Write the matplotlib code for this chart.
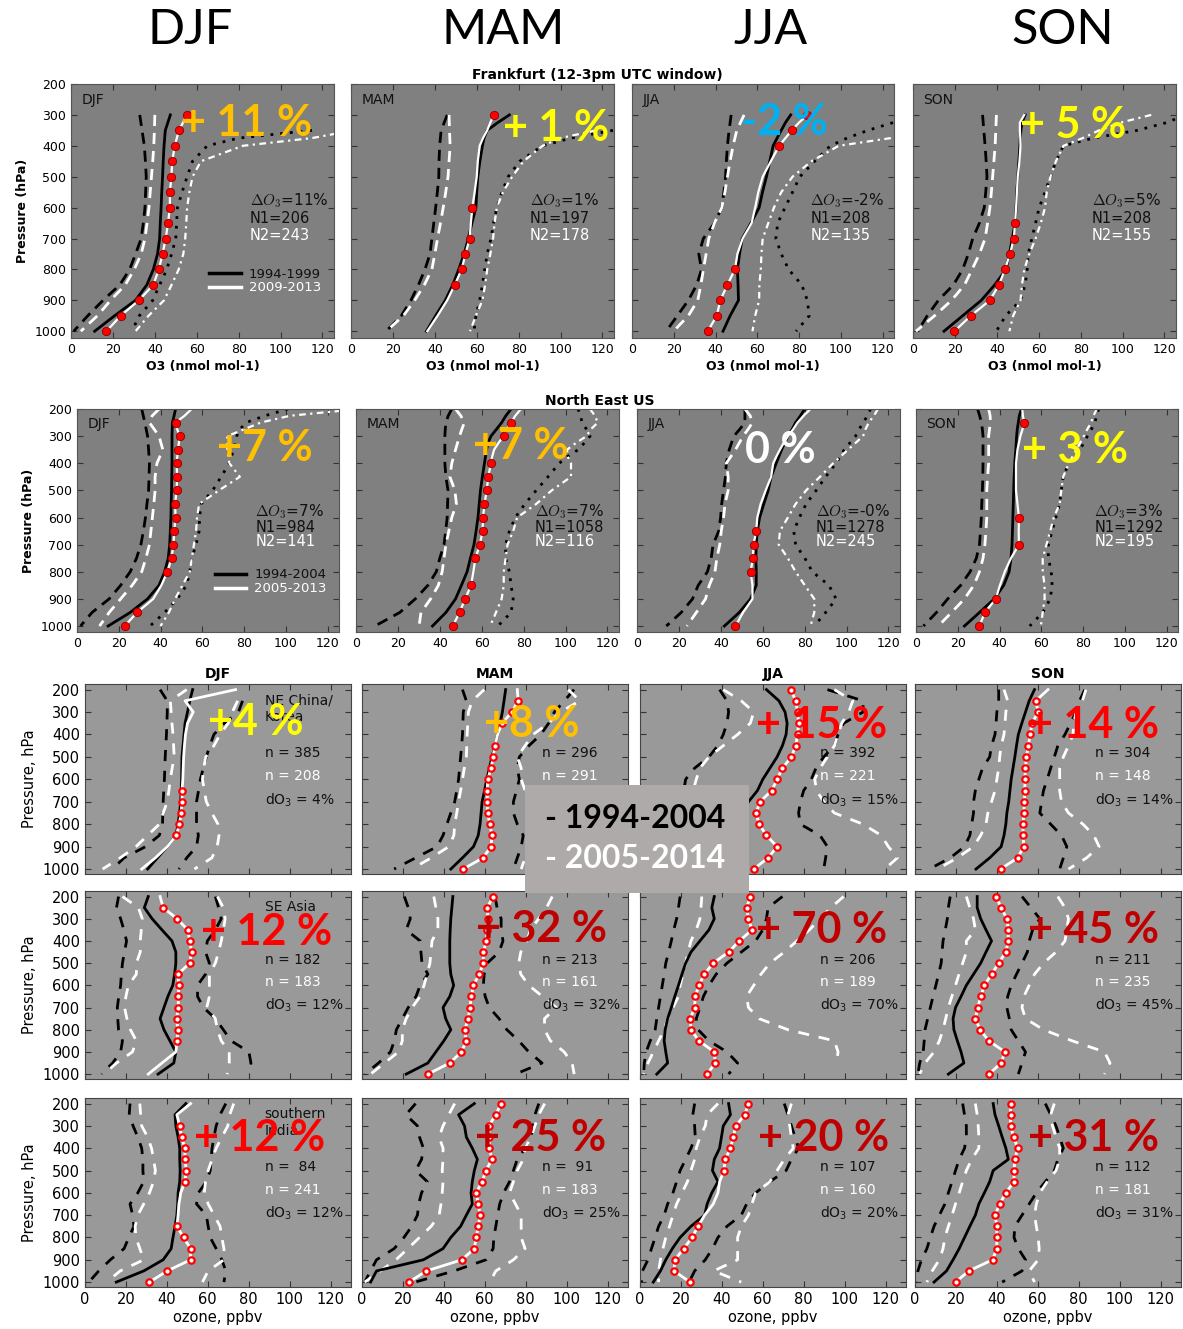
import numpy as np
import matplotlib
matplotlib.use("Agg")
import matplotlib.pyplot as plt
from matplotlib.patches import Rectangle
from matplotlib.lines import Line2D

plt.rcParams['font.family'] = 'DejaVu Sans'

N = None
W, H = 1183, 1329
SEASONS = ['DJF', 'MAM', 'JJA', 'SON']

#%% pressure grids
PRES_A = [200, 225, 250, 275, 300, 325, 350, 375, 400, 450, 500, 550, 600, 650,
          700, 750, 800, 850, 900, 950, 1000]
PRES_B = [200, 250, 300, 350, 400, 450, 500, 550, 600, 650, 700, 750, 800, 850,
          900, 950, 1000]

#%% Frankfurt (row 1), on PRES_A, order DJF MAM JJA SON
fra_old = [
    [N, N, N, N, 47.4, N, 45, N, 44.4, 44, 43.7, 43.3, 43, 42.6, 42.3, 41.3, 39.3, 36.2, 30.8, 20.8, 11.3],
    [N, N, N, N, 75.6, 70, 65, 63.5, 62.7, 61.5, 60.5, 60, 59.6, 57.7, 56, 54, 51.4, 48.6, 45, 40.4, 36],
    [N, N, N, N, 76, 73.5, 71.5, 69.5, 67.6, 66, 64.4, 62.5, 60.9, 57, 52.8, 51.5, 50.5, 50.8, 51, 47, 43.6],
    [N, N, N, N, 53.5, 52, 51.5, 51.2, 51, 50.5, 50, 49.5, 49.2, 48.7, 47.4, 46, 44.4, 39, 32.6, 23.7, 14.8]]
fra_new = [
    [N, N, N, N, 55.4, N, 51.5, N, 49.5, 48.3, 47.9, 47.2, 47.2, 46.3, 45.2, 43.7, 41.9, 39.3, 32.4, 23.7, 16.9],
    [N, N, N, N, 68, 66.5, 65, 63, 61.4, 60.5, 60, 59, 57.9, 57.2, 56.6, 54.6, 52.8, 49.5, 45.9, 41.3, 36.4],
    [N, N, N, N, 84, 80, 76.5, 73.5, 70.5, 66.5, 62.6, 60.5, 59, 57.3, 53, 50.5, 49.3, 45.7, 42.3, 40.6, 36.3],
    [N, N, N, N, 53.1, 51, 51, 51.2, 51.3, 50.8, 50, 49.6, 49.2, 48.7, 48.1, 46.3, 43.9, 41, 36.7, 27.6, 19.8]]
fra_old_lo = [
    [N, N, N, N, 32.8, N, 33.9, N, 35, 35.5, 35.9, 35.6, 35.3, 34.5, 33.5, 30.8, 28, 23.3, 15.3, 8, 1.3],
    [N, N, N, N, 45.9, N, 43, N, 42.3, 42, 41.9, 41.2, 40.4, 39.5, 38.6, 37.7, 35.3, 32.2, 28.6, 24, 16.8],
    [N, N, N, N, 47.5, N, 46.5, N, 45.7, 45.2, 44.8, 44, 43, 39.5, 34.2, 32, 33.3, 31, 27, 21.7, 16.4],
    [N, N, N, N, 33.2, N, 33.8, N, 34.4, 34.9, 35.3, 34.7, 34, 31.7, 28.5, 26.4, 23.7, 19.3, 12.1, 6.8, 2.3]]
fra_new_lo = [
    [N, N, N, N, 40, N, 39.8, N, 39.5, 39, 38.4, 37.8, 37.2, 36.3, 35.3, 33.5, 30.2, 25.9, 18.9, 12.6, 4.7],
    [N, N, N, N, 46.8, N, 47, N, 47.3, 46.8, 46.3, 45.2, 44, 42.7, 41.3, 40, 38.6, 35, 30.4, 25, 16.8],
    [N, N, N, N, 53.7, N, 50.2, N, 48.4, 47, 45.7, 44.5, 43, 39.5, 36.8, 35.5, 34.2, 33, 31.5, 27, 19.9],
    [N, N, N, N, 39.8, N, 39.5, N, 39.2, 38.6, 38, 37.4, 36.7, 35.6, 34.4, 31.7, 28.2, 24.6, 18.4, 10.3, 1.4]]
fra_old_hi = [
    [N, N, N, N, N, N, 115, 80, 65, 58, 55.4, 53, 50.8, 50.4, 50, 48, 45.7, 42.3, 39, 32.6, 29],
    [N, N, N, N, N, N, 125, 105, 91.4, 80.5, 75, 72, 69.6, 68, 66.8, 65, 63.8, 62.7, 61.4, 59.6, 58.7],
    [N, N, N, N, N, 125, 113, 103, 95, 87.5, 80.4, 76.9, 73.3, 69.8, 68.9, 71.5, 75, 81.3, 84, 84.9, 78.6],
    [N, N, N, N, 130, 121, 107, 86, 71.8, 68.2, 65.6, 63, 60.2, 58.5, 56.7, 55, 54.5, 53.5, 51.3, 44.2, 39.8]]
fra_new_hi = [
    [N, N, N, N, N, N, 135, 115, 82, 62, 58, 56.5, 55.4, 55, 54.5, 53.6, 51.4, 48, 44.4, 37, 30.8],
    [N, N, N, N, N, N, 117, 100, 91.4, 82.3, 76.9, 72.5, 69.6, 68.5, 67.8, 66.5, 65, 64, 62.7, 59.6, 56.8],
    [N, N, N, N, N, N, N, 124, 99, 86, 76.9, 71.5, 68, 65.3, 62.6, 62, 61.7, 61, 60.9, 59, 57.7],
    [N, N, N, N, 113.7, 99, 88.8, 81, 71.8, 68.2, 65.6, 63.8, 63, 61, 58.5, 55.5, 53.1, 52, 51.3, 47.8, 46]]
fra_dots = [
    [300, 350, 400, 450, 500, 550, 600, 650, 700, 750, 800, 850, 900, 950, 1000],
    [300, 600, 700, 750, 800, 850],
    [300, 350, 400, 800, 850, 900, 950, 1000],
    [650, 700, 750, 800, 850, 900, 950, 1000]]
fra_dO3 = ['11', '1', '-2', '5']
fra_n1 = [206, 197, 208, 208]
fra_n2 = [243, 178, 135, 155]

#%% North East US (row 2), on PRES_A
neus_old = [
    [47.2, 46.5, 45.7, 45.6, 45.5, N, 45.5, N, 45.5, 45.4, 45.3, 45.1, 45, 44.7, 44.4, 43.7, 42, 39.3, 33.8, 25.5, 14.9],
    [74, 71.5, 69.5, 67, 64.4, 63, 62.3, 61.8, 61.3, 60.3, 59.4, 58.8, 58.2, 57.3, 56.3, 54.6, 53, 50.3, 47.5, 42.9, 36.5],
    [80, 78, 75.7, 74, 72, 70.5, 69, 67.7, 66.4, 64, 62.6, 60.5, 58.5, 57.4, 56.9, 56.7, 56.9, 56.9, 54.2, 48.8, 41.7],
    [50.5, 49.5, 49, 48.5, 48.2, N, 47.8, N, 47.3, 47, 46.8, 46.6, 46.4, 46.2, 46, 45.5, 44.6, 42, 37.5, 30.4, 23.2]]
neus_new = [
    [54.9, 51.5, 47.2, 48, 49.2, N, 48.4, N, 47.7, 48, 47.7, 47, 47.2, 46.6, 46.2, 45.3, 43.3, 40.4, 36.5, 28.8, 22.8],
    [78.7, 76, 74, 72, 70.4, 68, 65.9, 65, 64.4, 63.1, 62.4, 61.3, 60.6, 60.4, 59.1, 57, 56, 54.9, 52.1, 49.4, 46.2],
    [82.8, 79.5, 76.6, 74.5, 72, 70, 68.2, 66.5, 65, 64, 61.4, 59, 57.4, 56.9, 55.6, 55.3, 54.2, 55.1, 55.1, 50.6, 47],
    [50.9, 51.2, 51.8, 51, 50, N, 48.6, N, 47.9, 47.9, 47.9, 48.6, 49.3, 49.2, 49.3, 45.5, 42.5, 40.2, 38.2, 33, 30.4]]
neus_old_lo = [
    [31, N, 32.5, N, 33.8, N, 34.3, N, 34.7, 34.5, 34.3, 33.5, 32.8, 31.8, 30.6, 28.5, 25.5, 20.9, 15.4, 7.2, 1.7],
    [45.7, 44, 42.9, 42.6, 42.4, N, 42.4, N, 42.4, 42.9, 43.9, 43.7, 43.5, 42.8, 42, 40, 38.3, 34.3, 28.3, 20.9, 9],
    [51.5, 51.5, 51.5, 49, 46.2, N, 44, N, 42.6, 42.2, 41.3, 40.4, 39.9, 39, 36.3, 35.4, 33.6, 29.2, 26.5, 21.1, 14],
    [29.5, 30.5, 31.3, 31.8, 32.1, N, 32.1, N, 32.1, 32, 31.8, 31.5, 31.3, 30.9, 30.4, 28.9, 25.9, 21.4, 15.2, 9.8, 3.6]]
neus_new_lo = [
    [39.3, 36, 34.7, 37, 39.3, N, 41.1, N, 38.3, 37.4, 37.4, 36.8, 36.1, 35.4, 34.7, 33, 31, 26.4, 20.9, 15.4, 10.8],
    [47.5, 50, 51.7, 50.5, 49.4, N, 47.5, N, 45.7, 44.8, 47.2, 47.9, 45.7, 44.3, 42.9, 42, 41.1, 39.3, 35.6, 31, 30.1],
    [51.5, 54, 55.1, 53, 50.6, N, 47, N, 42.6, 43.5, 43.5, 42, 41.3, 40.2, 39.5, 38.1, 37.2, 34.5, 32.7, 28.3, 23.8],
    [34.8, 35.5, 35.7, 35.2, 34.8, N, 34.8, N, 34.8, 34.3, 33.9, 33.9, 33.9, 33.5, 33, 32.1, 30.4, 27.7, 23.2, 17, 10.7]]
neus_old_hi = [
    [101, 90, 81, 78, 76.5, N, 75, N, 73, 69, 65, 59.5, 58.7, 58.5, 57, 55, 54, 52.5, 48, 42, 35],
    [106, 107, 108, 110, 111.7, 109, 106, 101, 97, 91.6, 86, 80.6, 76, 73.2, 71.4, 71.4, 73.2, 74, 75, 74, 67.7],
    [111.4, 110, 107.9, 106, 104.3, N, 98.9, N, 95, 90, 85.5, 80.7, 77.5, 74.8, 75.7, 80.1, 83.7, 91.6, 95, 90, 84.6],
    [87.5, 86.5, 85.7, 84, 82.1, N, 78.6, N, 73.2, 70.5, 69.6, 68.8, 67, 65.2, 63.4, 63.4, 64.8, 65.2, 64.3, 60.7, 54.5]]
neus_new_hi = [
    [135, 102, 88, 80, 72, N, 72, N, 73, 78, 68, 58.5, 57.5, 57, 56, 55, 54, 50.5, 47, 44, 40],
    [111.7, 114, 115.4, 112, 110, 105, 100.7, 101, 102.6, 102.6, 93.4, 86, 76.9, 75, 72.3, 71.4, 70.5, 70.5, 69.5, 66.8, 64],
    [115, 113, 110.6, 109, 107.9, N, 100.7, N, 93.6, 87.3, 80.7, 75.7, 72, 68.2, 67.6, 72, 75.7, 80.1, 84.6, 84.6, 82.8],
    [86.6, 85, 83.9, 82, 80.4, N, 76.8, N, 73.2, 70.5, 69.6, 68.8, 66, 64.3, 62.5, 60.7, 60.7, 61.6, 61.6, 60.7, 59.8]]
neus_dots = [
    [250, 300, 350, 400, 450, 500, 550, 600, 650, 700, 750, 800, 950, 1000],
    [250, 300, 400, 450, 500, 550, 600, 650, 700, 750, 850, 900, 950, 1000],
    [650, 700, 750, 800, 1000],
    [250, 600, 700, 900, 950, 1000]]
neus_dO3 = ['7', '7', '-0', '3']
neus_n1 = [984, 1058, 1278, 1292]
neus_n2 = [141, 116, 245, 195]

#%% NE China / Korea (row 3), on PRES_B
nec_old = [
    [52.6, 51.2, 50.1, 48.9, 48.4, 47.9, 47.4, 47.3, 47.2, 47, 46.8, 46.2, 45.5, 44.4, 40.2, 35.4, 30.6],
    [70.2, 69.4, 68.6, 67.5, 66.3, 65, 63.5, 62.3, 61, 59.9, 58.7, 58.2, 57.7, 56.8, 54.5, 49.1, 43.4],
    [61.8, 67.9, 70.9, 71.9, 71.4, 69.6, 67, 63.5, 60, 57.4, 53, 50, 48, 47, 46, 44, 42],
    [58.4, 55.8, 54, 52.2, 50.5, 49.6, 48.8, 47.9, 47, 46.4, 45.8, 44.9, 44.4, 43.5, 42.1, 36.5, 29.8]]
nec_new = [
    [73.6, 48.9, 52.9, 50.1, 49.1, 48.6, 48.2, 48, 47.8, 47.4, 47.4, 47, 46.1, 44.6, 40.2, 34.4, 27.7],
    [75.9, 76.3, 73.4, 68.3, 66.3, 65, 64, 63.1, 61.4, 61.2, 61.2, 61.4, 62.5, 63.5, 63.1, 59.1, 49.5],
    [73.7, 76.1, 77, 77.5, 77, 76.1, 74, 69.6, 67, 64.4, 58.6, 56.8, 58.2, 61.8, 67, 62.6, 55.6],
    [65, 59, 60.2, 57.2, 56.3, 55.4, 54.4, 54, 53.7, 53.7, 53.5, 53.2, 52.8, 52.8, 53.2, 50.2, 41.8]]
nec_old_lo = [
    [36.7, 40.2, 40.2, 40, 39.8, 39.5, 39.2, 39, 38.8, 38.5, 38.2, 38, 37.9, 36.3, 29.6, 19.1, 13.4],
    [49.1, 51, 49.5, 49.3, 49.1, 48.7, 48.2, 47.7, 47.2, 46.3, 45.3, 43.4, 41.5, 39.6, 36.7, 26.2, 15.7],
    [38.9, 42.5, 43.3, 42.5, 40.7, 38, 33.7, 26.7, 22.3, 21.4, 20, 18, 16, 14, 12, 10, 8],
    [40.9, 40.9, 40, 39.6, 39.1, 37.4, 36.5, 33, 31.2, 29.5, 28.6, 28.6, 27.7, 26.8, 24.2, 17.2, 7]]
nec_new_lo = [
    [49.7, 41.7, 42.1, 42.5, 43, 43.3, 43.6, 42.6, 41.7, 41, 40.2, 38.2, 36.3, 30.6, 24.9, 17.2, 8.6],
    [59.7, 53.9, 52, 51.7, 51.4, 51.2, 51, 50, 49.1, 48.2, 47.2, 46.3, 45.3, 44.9, 42.4, 33.8, 24.3],
    [40.7, 49.5, 55.6, 53.9, 47.7, 40.7, 33.7, 29.3, 27.5, 26, 24, 22, 20, 18, 16, 13, 10],
    [43.5, 45.3, 44.4, 44, 43.5, 42.1, 41.4, 40.9, 40, 39.1, 37.4, 35.6, 34.7, 32.1, 28.6, 20.7, 11]]
nec_old_hi = [
    [N, 77, 75, 68, 63, 61, 59.3, 57.8, 56.4, 55.5, 54.5, 54.5, 54.5, 55.4, 54.5, 49.7, 45.9],
    [103.6, 98.9, 94, 91.2, 87.4, 81.6, 76.9, 75.9, 76.9, 75.5, 74, 74, 75.9, 78.8, 77.8, 75.9, 74],
    [91.6, 109, 109, 99.5, 96.8, 95, 89.8, 86, 83.7, 80, 78.4, 77.5, 78.4, 88, 91.6, 90.7, 89.8],
    [83, 80.4, 78.6, 76, 73.3, 69.8, 68.1, 66.3, 64.6, 62.8, 61.9, 61, 66.3, 71.6, 74.2, 72.5, 70.7]]
nec_new_hi = [
    [N, 74.6, 72, 70, 66, 63, 59, 58, 57.4, 58.3, 59.3, 62, 65, 65.5, 64.6, 62, 53.5],
    [100.8, 106.5, 96.9, 91.2, 83.6, 79.7, 75.9, 77.8, 77.8, 79.7, 80.5, 81, 81.5, 82, 81.6, 79.7, 77.8],
    [95, 104, 102, 98.6, 96.8, 95, 91.6, 88, 85.4, 86.3, 89.8, 95, 109, 117.9, 121.4, 125.8, 119.6],
    [83.5, 81.8, 78.6, 77.7, 77.2, 75, 72.5, 70.7, 70.7, 70.7, 71.6, 75, 82.1, 87.4, 90, 83.9, 75]]
nec_dots = [
    [650, 700, 750, 800, 850],
    [250, 300, 350, 450, 500, 550, 600, 650, 700, 750, 800, 850, 900, 950, 1000],
    PRES_B,
    PRES_B[1:]]
nec_n1 = [385, 296, 392, 304]
nec_n2 = [208, 291, 221, 148]
nec_d = [4, 8, 15, 14]

#%% SE Asia (row 4), on PRES_B
sea_old = [
    [30.9, 29, 32.8, 37.6, 42.5, 44.4, 44.4, 43.8, 42.9, 40.5, 38.6, 36.7, 38.6, 41.5, 44.4, 43.4, 35.7],
    [44.4, 43.9, 43.4, 43.1, 42.9, 42.9, 42.9, 43.4, 44.8, 42.9, 39.6, 40.9, 43.4, 40, 36.1, 32.2, 21.6],
    [36.3, 35.1, 36.3, 33.7, 29.3, 24.9, 22.3, 20.5, 18.8, 17, 15.3, 13.5, 12.3, 11.8, 12.6, 13.5, 8.2],
    [30.4, 30.4, 32.1, 34.7, 37.4, 34.7, 32.1, 28.6, 25.1, 22.5, 19.8, 18.6, 19, 20.7, 22.5, 23.9, 16.3]]
sea_new = [
    [36.7, 38.2, 45, 50.2, 51.2, 52.1, 51.2, 45.4, 45.9, 45.6, 45.6, 44.8, 45.4, 45, 44.4, 37.6, 30.9],
    [64.1, 61.2, 61.6, 61.2, 60.8, 59.3, 59.3, 57.3, 54.4, 53.5, 52.7, 51.9, 50.2, 51, 48.6, 42.9, 32.2],
    [53.9, 52.1, 53, 54.7, 48.6, 43.3, 35.8, 31.4, 28.8, 27, 26.7, 24.6, 24.9, 28.8, 36.3, 36.8, 32.8],
    [39.6, 42.1, 44.9, 45.6, 45.6, 44.4, 40.9, 37.4, 33.9, 32.1, 30.7, 29.5, 31.8, 36.1, 43.9, 42.1, 36.1]]
sea_old_lo = [
    [16.4, 15.4, 17.4, 19, 20.3, 19.3, 18.3, 17.8, 17.4, 16.5, 15.8, 16, 16.4, 18.3, 17.4, 13.5, 8.1],
    [20.7, 22.6, 23.6, 21.6, 28.4, 28.8, 29.3, 32.2, 28.4, 26.4, 22.6, 19.7, 16.8, 15.8, 13.9, 8.1, 1.4],
    [19.6, 18.8, 17.9, 16.5, 15.3, 14, 12.6, 11.8, 10.9, 10, 9.1, 8.2, 7.4, 5, 3, 2.1, 1.8],
    [17.2, 16.3, 15.8, 14.8, 13.7, 13.2, 12.8, 11.5, 10.2, 8.8, 7.5, 6.2, 4.9, 4.5, 4, 2.3, 1.4]]
sea_new_lo = [
    [18.3, 26.1, 28, 27.5, 27, 27, 25.1, 25.1, 21.2, 20, 19.3, 20.5, 22.2, 25.1, 23.2, 15.4, 9.3],
    [35.1, 36.1, 37.1, 37.1, 34.2, 33.7, 33.2, 31.8, 30.3, 28.4, 24.5, 21.6, 19.7, 19.7, 17.8, 11, 4.2],
    [30.2, 29.8, 29.3, 27.5, 24.9, 23.5, 22.3, 21, 19.6, 18.8, 16.1, 13.5, 11.8, 9.1, 6.5, 3.9, 1.8],
    [25.1, 26.8, 28.6, 29.5, 25.1, 25.1, 23.3, 21.5, 19.8, 18, 16.3, 15, 13.7, 11.9, 9.3, 4.9, 2.3]]
sea_old_hi = [
    [63.7, 65.3, 66.6, 63.7, 59.8, 58.9, 60.8, 58.9, 55, 55, 57.9, 63.7, 67.6, 71.4, 80.1, 81.1, 80.1],
    [65, 66, 68, 68, 68.9, 67, 61.2, 59.7, 59.3, 60.2, 62.2, 67, 70.8, 76.6, 81.5, 88, 75],
    [69.6, 62.6, 61.8, 60, 56.5, 49.5, 42.5, 37.2, 33.7, 31, 29.3, 27.5, 28.4, 33.7, 42.5, 47.7, 43.3],
    [52.3, 56.7, 61, 57.5, 55.8, 54.9, 52.3, 49.6, 47, 45.3, 44.9, 46.1, 47, 50.5, 54, 52.3, 50.5]]
sea_new_hi = [
    [64.7, 67.6, 68.5, 67.6, 66.6, 65.3, 63.7, 60.8, 60.8, 60.8, 59.5, 63.7, 64.7, 66.6, 70.5, 70.5, 69.5],
    [93, 90.2, 86.3, 82.4, 80.5, 77.6, 76.6, 77.6, 81.5, 88.2, 95, 89.2, 89.2, 92.1, 98.8, 102.7, 103.7],
    [99.5, 93.3, 88, 82.8, 76.7, 70.5, 63.5, 59.1, 55.6, 52.1, 53, 58.2, 72.3, 95, 96.8, 96, N],
    [69.8, 73.3, 75, 74.2, 73.3, 68.9, 62.8, 58.4, 55.8, 53.2, 52.3, 54, 62.8, 76.8, 92.6, 95.3, 92.6]]
sea_dots = [
    [250, 300, 350, 400, 450, 500, 550, 600, 650, 700, 750, 800, 850],
    PRES_B, PRES_B, PRES_B]
sea_n1 = [182, 213, 206, 211]
sea_n2 = [183, 161, 189, 235]
sea_d = [12, 32, 70, 45]

#%% southern India (row 5), on PRES_B
sin_old = [
    [49.3, 44, 44.4, 45.5, 46.3, 46.3, 46.5, 46.3, 45.5, 45.3, 44.9, 44, 43, 42.1, 38.2, 28.7, 15.3],
    [54.9, 47.2, 50.1, 51, 53.9, 56.4, 54.9, 53.9, 53.3, 53.9, 51, 48.2, 43.4, 39.6, 30, 7.1, 4.2],
    [43.3, 44.2, 40.7, 39.8, 38.9, 36.3, 35.4, 38.1, 35.1, 32.8, 31.6, 24.9, 19.6, 15.8, 12.6, 10, 6.5],
    [38.2, 39.1, 40.9, 42.6, 44.4, 45.6, 38.2, 36.5, 33.9, 31.2, 29.5, 26.8, 24.2, 21.6, 18.6, 15.4, 9.3]]
sin_new = [
    [51.6, 44.9, 46.3, 47.2, 48.8, 48.9, 49.5, 48.8, 46.8, 45.9, 45.5, 44.9, 48.2, 51.6, 51.6, 40.2, 31.5],
    [67.9, 65.4, 62, 62.1, 62.3, 63.5, 60.6, 58.7, 55.8, 56.8, 57.7, 56.8, 55.8, 54.9, 48.8, 31.5, 22.9],
    [53, 51.2, 46.8, 45.6, 44.2, 41.6, 41.1, 38.9, 38.1, 35.8, 31.6, 28.4, 25.4, 21.4, 17, 16.7, 24.4],
    [46.7, 46.7, 46.7, 48.2, 50.2, 48.8, 48.4, 48.4, 44.4, 41.4, 39.1, 40, 40, 40, 37.9, 26.3, 19.8]]
sin_old_lo = [
    [22, 21.6, 23.5, 25.8, 27.7, 28.3, 28.3, 28.7, 25.8, 22, 23.3, 23.9, 21.4, 19.1, 12.4, 6.7, 1.9],
    [26.2, 21.4, 27.1, 28.1, 30, 29.1, 26.2, 31.9, 29.1, 27.7, 27.1, 24.3, 20.5, 15.7, 7.1, 4.2, 1.3],
    [26.7, 25.8, 26.7, 27, 24.9, 22.3, 19.6, 17.9, 16.1, 13.5, 11.8, 9.1, 7.4, 5.6, 3.9, 1.2, 0.7],
    [23.3, 24.2, 25.1, 25.1, 24.2, 21.6, 19.8, 18.1, 16.3, 14.6, 11.9, 9.3, 7.5, 5.8, 3.2, 1.4, 0.5]]
sin_new_lo = [
    [26.8, 27.2, 27.7, 30.6, 32.5, 33.5, 34.4, 33.5, 31.5, 28.7, 25.8, 24.5, 24.9, 26.8, 28.7, 17.2, 10.5],
    [45.3, 42.4, 39.6, 37.7, 39.6, 39.6, 39.2, 39.6, 39.2, 38.6, 37.7, 33.8, 28.1, 22.4, 16.6, 9, 1.3],
    [38.1, 32.8, 31.9, 29.3, 27.5, 26.7, 24.9, 23.2, 20.5, 17.9, 16.1, 14.4, 12.6, 11.2, 10, 9.1, 9.1],
    [29.5, 30.4, 30.9, 31.2, 31.2, 27.7, 25.1, 23.3, 21.6, 19.8, 18.1, 16.3, 14.6, 13.7, 11.9, 8.4, 5.8]]
sin_old_hi = [
    [68.8, 66, 64.1, 63, 62.1, 61.6, 61.2, 59.3, 55.4, 54.5, 59.3, 60.2, 61.2, 64.1, 66.9, 68.8, 67.9],
    [86.4, 84.5, 83.6, 82.6, 79.7, 75.9, 74, 72.1, 69.2, 67.3, 66.3, 65.4, 64.4, 64.1, 60.6, 45, 26],
    [70.5, 72.3, 74, 75.8, 77.5, 74, 71.4, 63.5, 56.5, 52.1, 49.5, 42.5, 38.1, 35.4, 31.9, 26.7, 24],
    [63.7, 66.3, 68.9, 70.7, 72.5, 69.8, 68.1, 63.7, 59.3, 55.8, 52.3, 48.8, 48.4, 50.5, 54, 52.3, 42.6]]
sin_new_hi = [
    [72.7, 70.7, 69.8, 66.9, 64.1, 62.1, 60.2, 58.9, 58.3, 60.2, 63.1, 66, 66.9, 67.9, 67.9, 60.2, 57.4],
    [89.3, 86.4, 84.5, 82.6, 79.7, 78.8, 75.9, 74, 72.1, 75, 77.8, 77.8, 77.8, 79.7, 74, 65.4, 62.5],
    [74, 72.3, 73.2, 74, 74.9, 70.5, 67, 63.5, 56.5, 54.7, 53, 49.5, 47.7, 47.7, 47.7, 36, 49.5],
    [68.1, 66.3, 67.2, 68.9, 70.7, 70.7, 68.9, 64.6, 61, 59.3, 58.4, 59.3, 60.2, 60.7, 60.2, 55.8, 58.4]]
sin_dots = [
    [300, 350, 400, 450, 500, 550, 750, 800, 850, 900, 950, 1000],
    PRES_B,
    [200, 250, 300, 350, 400, 450, 500, 750, 800, 850, 900, 950, 1000],
    PRES_B]
sin_n1 = [' 84', ' 91', 107, 112]
sin_n2 = [241, 183, 160, 181]
sin_d = [12, 25, 20, 31]

#%% big change labels and colours
ORANGE, YELLOW, CYAN, RED, DRED = '#ffc000', '#ffff00', '#00b0f0', '#ff0000', '#c00000'
big_txt = [['+ 11 %', '+ 1 %', '-2 %', '+ 5 %'],
           ['+7 %', '+7 %', '0 %', '+ 3 %'],
           ['+4 %', '+8 %', '+ 15 %', '+ 14 %'],
           ['+ 12 %', '+ 32 %', '+ 70 %', '+ 45 %'],
           ['+ 12 %', '+ 25 %', '+ 20 %', '+ 31 %']]
big_col = [[ORANGE, YELLOW, CYAN, YELLOW],
           [ORANGE, ORANGE, 'white', YELLOW],
           [YELLOW, ORANGE, RED, RED],
           [RED, DRED, DRED, DRED],
           [RED, DRED, DRED, DRED]]
big_pos = [[(247, 123), (556, 128), (784, 122), (1073, 125)],
           [(265, 448), (521, 446), (780, 450), (1075, 450)],
           [(256, 722), (532, 724), (822, 725), (1093, 725)],
           [(267, 932), (541, 929), (822, 930), (1094, 930)],
           [(260, 1138), (541, 1138), (824, 1138), (1094, 1138)]]

#%% layout in pixels
ROW_Y = [(84, 338), (409, 632), (684, 874), (891, 1079), (1098, 1287)]
COL_X = [[(71, 334), (351, 614), (632, 894), (913, 1176)],
         [(77, 339), (356, 619), (637, 900), (916, 1178)]] + \
        [[(85, 351), (362, 628), (640, 906), (915, 1181)]] * 3

fig = plt.figure(figsize=(W / 100, H / 100), dpi=100)


def fxy(px, py):
    return px / W, 1 - py / H


def draw(ax, pres, old, new, olo, nlo, ohi, nhi, dots, top):
    pres = np.array(pres, dtype=float)
    if top:
        hi_b = dict(color='black', lw=2, ls=(0, (1, 2.5)))
        hi_w = dict(color='white', lw=1.6, ls=(0, (3, 2, 1, 2)))
        lo_b = dict(color='black', lw=2, ls=(0, (4, 2.5)))
        lo_w = dict(color='white', lw=2, ls=(0, (4, 2.5)))
    else:
        hi_b = dict(color='black', lw=2, ls=(0, (4, 3.5)))
        hi_w = dict(color='white', lw=2, ls=(0, (4, 3.5)))
        lo_b, lo_w = hi_b, hi_w
    lines = [(ohi, hi_b), (nhi, hi_w), (olo, lo_b), (nlo, lo_w),
             (old, dict(color='black', lw=2)), (new, dict(color='white', lw=1.6 if top else 2))]
    for vals, kw in lines:
        v = np.array(vals, dtype=float)
        m = np.isfinite(v)
        ax.plot(v[m], pres[m], **kw)
    nv = np.array(new, dtype=float)
    m = np.isin(pres, dots)
    if top:
        ax.plot(nv[m], pres[m], 'o', ms=6, mfc='red', mec='#8b0000', mew=0.6, zorder=5)
    else:
        ax.plot(nv[m], pres[m], 'o', ms=4.6, mfc='white', mec='red', mew=1.6, zorder=5)


regions = [
    (PRES_A, fra_old, fra_new, fra_old_lo, fra_new_lo, fra_old_hi, fra_new_hi, fra_dots),
    (PRES_A, neus_old, neus_new, neus_old_lo, neus_new_lo, neus_old_hi, neus_new_hi, neus_dots),
    (PRES_B, nec_old, nec_new, nec_old_lo, nec_new_lo, nec_old_hi, nec_new_hi, nec_dots),
    (PRES_B, sea_old, sea_new, sea_old_lo, sea_new_lo, sea_old_hi, sea_new_hi, sea_dots),
    (PRES_B, sin_old, sin_new, sin_old_lo, sin_new_lo, sin_old_hi, sin_new_hi, sin_dots)]
lower_txt = [(nec_n1, nec_n2, nec_d, 'NE China/\nKorea'),
             (sea_n1, sea_n2, sea_d, 'SE Asia'),
             (sin_n1, sin_n2, sin_d, 'southern\nIndia')]
top_txt = [(fra_dO3, fra_n1, fra_n2, ['1994-1999', '2009-2013']),
           (neus_dO3, neus_n1, neus_n2, ['1994-2004', '2005-2013'])]

for r in range(5):
    y0, y1 = ROW_Y[r]
    top = r < 2
    pres, old, new, olo, nlo, ohi, nhi, dots = regions[r]
    for c in range(4):
        x0, x1 = COL_X[r][c]
        ax = fig.add_axes([x0 / W, 1 - y1 / H, (x1 - x0) / W, (y1 - y0) / H])
        ax.set_facecolor('#808080' if top else '#999999')
        draw(ax, pres, old[c], new[c], olo[c], nlo[c], ohi[c], nhi[c], dots[c], top)
        if top:
            ax.set_xlim(0, 125.5)
            ax.set_ylim(1022, 200)
        else:
            ax.set_xlim(0, 130)
            ax.set_ylim(1022, 175)
        ax.set_xticks(range(0, 121, 20))
        ax.set_yticks(range(200, 1001, 100))
        ax.tick_params(direction='in', top=True, right=True, length=4, width=0.8,
                       colors='#333333', labelcolor='black', labelsize=9 if top else 10.5)
        for s in ax.spines.values():
            s.set_color('#444444' if not top else '#555555')
            s.set_linewidth(0.8)
        if c > 0:
            ax.set_yticklabels([])
        elif top:
            ax.set_ylabel('Pressure (hPa)', fontsize=9, fontweight='bold')
        else:
            ax.set_ylabel('Pressure, hPa', fontsize=10.5)
        if r in (2, 3):
            ax.set_xticklabels([])
        if r == 0:
            ax.set_xlabel('O3 (nmol mol-1)', fontsize=9, fontweight='bold', labelpad=3)
        if r == 4:
            ax.set_xlabel('ozone, ppbv', fontsize=10.5, labelpad=2)
        if r == 2:
            ax.set_title(SEASONS[c], fontsize=10, fontweight='bold', pad=4)

        if top:
            dO3, n1, n2, leg = top_txt[r]
            ax.text(0.04, 0.965, SEASONS[c], transform=ax.transAxes, fontsize=10,
                    va='top', color='#111111')
            ax.text(0.68, 0.54, r'$\Delta O_3$=' + dO3[c] + '%', transform=ax.transAxes,
                    fontsize=11, math_fontfamily='cm', color='#111111', va='center')
            ax.text(0.68, 0.47, 'N1=%d' % n1[c], transform=ax.transAxes, fontsize=10.5,
                    color='#111111', va='center')
            ax.text(0.68, 0.405, 'N2=%d' % n2[c], transform=ax.transAxes, fontsize=10.5,
                    color='white', va='center')
            if c == 0:
                hh = [Line2D([], [], color='black', lw=2.5), Line2D([], [], color='white', lw=2.5)]
                ax.legend(hh, leg, loc='center left', bbox_to_anchor=(0.48, 0.225),
                          frameon=False, fontsize=9.5, handlelength=2.4, labelspacing=0.05,
                          handletextpad=0.6, labelcolor=['#111111', 'white'])
        else:
            n1, n2, d, name = lower_txt[r - 2]
            if c == 0:
                ax.text(0.675, 0.95, name, transform=ax.transAxes, fontsize=10,
                        va='top', color='#111111', linespacing=1.25)
            ax.text(0.675, 0.635, 'n = %s' % n1[c], transform=ax.transAxes, fontsize=10,
                    va='center', color='#111111')
            ax.text(0.675, 0.515, 'n = %s' % n2[c], transform=ax.transAxes, fontsize=10,
                    va='center', color='white')
            ax.text(0.675, 0.39, 'dO$_3$ = %d%%' % d[c], transform=ax.transAxes, fontsize=10,
                    va='center', color='#111111')

        px, py = big_pos[r][c]
        fig.text(*fxy(px, py), big_txt[r][c], ha='center', va='center', fontsize=31,
                 fontweight='bold', family='Lato', color=big_col[r][c], zorder=20)

# season headings and row titles
for name, px in zip(SEASONS, [190, 503, 770, 1063]):
    fig.text(*fxy(px, 30), name, ha='center', va='center', fontsize=35, family='Lato')
fig.text(*fxy(597, 75), 'Frankfurt (12-3pm UTC window)', ha='center', va='center',
         fontsize=10, fontweight='bold')
fig.text(*fxy(600, 401), 'North East US', ha='center', va='center',
         fontsize=10, fontweight='bold')

# period key box
bx0, by0 = fxy(525, 893)
fig.patches.append(Rectangle((bx0, by0), (749 - 525) / W, (893 - 785) / H,
                             transform=fig.transFigure, facecolor='#aeaaa9',
                             edgecolor='none', zorder=30))
fig.text(*fxy(545, 819), '- 1994-2004', ha='left', va='center', fontsize=23,
         fontweight='bold', family='Lato', color='black', zorder=31)
fig.text(*fxy(545, 859), '- 2005-2014', ha='left', va='center', fontsize=23,
         fontweight='bold', family='Lato', color='white', zorder=31)

fig.savefig('out.png', dpi=100)
